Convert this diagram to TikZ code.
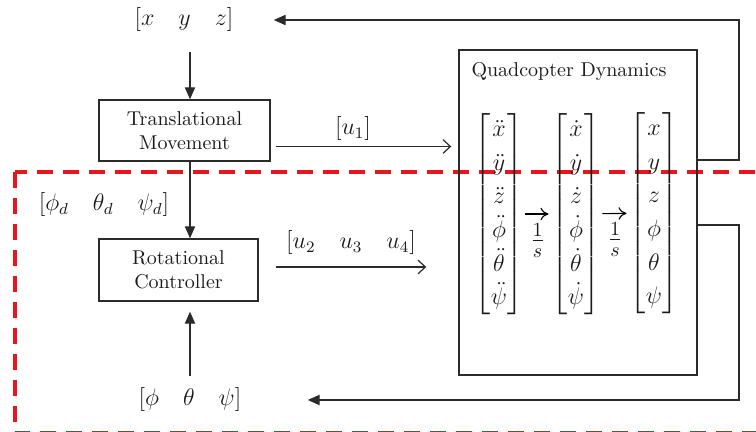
\documentclass[tikz,border=0pt]{standalone}
\usepackage{amsmath,amssymb}
\usepackage{xcolor}
\usepackage{tikz}
\usetikzlibrary{positioning,arrows.meta,calc}
\definecolor{wire}{HTML}{2B2B2B}
\definecolor{ink}{HTML}{1A1A1A}
\definecolor{zone}{HTML}{E8161C}
\renewcommand{\arraystretch}{1.2}

\begin{document}
\begin{tikzpicture}[
  x=0.5pt,y=-0.5pt,
  font=\normalsize,text=ink,
  blk/.style={draw=wire,line width=0.7pt,align=center,inner sep=2pt},
  vec/.style={font=\large,inner sep=3pt},
  mat/.style={font=\large,inner sep=0pt},
  arr/.style={-{Triangle[length=2.1mm,width=1.8mm]},line width=0.6pt,wire},
  barb/.style={-{Straight Barb[length=1.3mm,width=2.4mm]},line width=0.6pt,wire},
  integ/.style={-{To[length=1.4mm,width=2.2mm]},line width=0.55pt},
  fb/.style={line width=0.7pt,wire},
  zonedash/.style={draw=zone,line width=2pt,dash pattern=on 8pt off 5pt}
]
\useasboundingbox (0,0) rectangle (756,432);
\draw[zonedash] (15,172) rectangle (800,433);
\node[vec] (xyz) at (184,20) {$[x\quad y\quad z]$};
\node[blk,minimum width=85.5pt,minimum height=30.5pt] (tm) at (184.5,130.5) {Translational\\Movement};
\node[vec] (att) at (104,205) {$[\phi_d\quad \theta_d\quad \psi_d]$};
\node[blk,minimum width=79.5pt,minimum height=31pt] (rc) at (178.5,270) {Rotational\\Controller};
\node[vec] (ang) at (190,400) {$[\phi\quad \theta\quad \psi]$};
\node[blk,minimum width=119pt,minimum height=162.5pt] (qd) at (578,212.5) {};
\node (qdt) at (569,72) {Quadcopter Dynamics};
\node[mat] (m1) at (499,214) {$\begin{bmatrix}\ddot{x}\\ \ddot{y}\\ \ddot{z}\\ \ddot{\phi}\\ \ddot{\theta}\\ \ddot{\psi}\end{bmatrix}$};
\node[mat] (m2) at (576,214) {$\begin{bmatrix}\dot{x}\\ \dot{y}\\ \dot{z}\\ \dot{\phi}\\ \dot{\theta}\\ \dot{\psi}\end{bmatrix}$};
\node[mat] (m3) at (654,213) {$\begin{bmatrix}x\\ y\\ z\\ \phi\\ \theta\\ \psi\end{bmatrix}$};
\node[vec] (u1) at (353,129) {$[u_1]$};
\node[vec] (u234) at (351,243) {$[u_2\quad u_3\quad u_4]$};
\coordinate (vx) at (190,0);
\coordinate (fbx) at (739,0);
\draw[arr,shorten <=7pt] (xyz.south -| vx) -- (tm.north -| vx);
\draw[arr] (tm.south -| vx) -- (rc.north -| vx);
\draw[arr,shorten <=3pt,shorten >=5pt] (ang.north -| vx) -- (rc.south -| vx);
\draw[barb,shorten <=2.5pt,shorten >=3.5pt] ([yshift=-8pt]tm.east) -- ([yshift=-8pt]tm.east -| qd.west);
\draw[barb,shorten <=8.5pt,shorten >=16pt] ([yshift=1.5pt]rc.east) -- ([yshift=1.5pt]rc.east -| qd.west);
\draw[integ,shorten <=1pt,shorten >=1.5pt] (m1) -- node[below=1pt,font=\Large] {$\frac{1}{s}$} (m2);
\draw[integ,shorten <=1pt,shorten >=1.5pt] (m2) -- node[below=1pt,font=\Large] {$\frac{1}{s}$} (m3);
\draw[fb,-{Triangle[length=2.1mm,width=1.8mm]},shorten >=17pt] ([yshift=26.25pt]qd.east) -| (fbx |- xyz) -- (xyz);
\draw[fb,-{Triangle[length=2.1mm,width=1.8mm]},shorten >=30pt] ([yshift=-6.25pt]qd.east) -| (fbx |- ang) -- (ang);
\end{tikzpicture}
\end{document}
